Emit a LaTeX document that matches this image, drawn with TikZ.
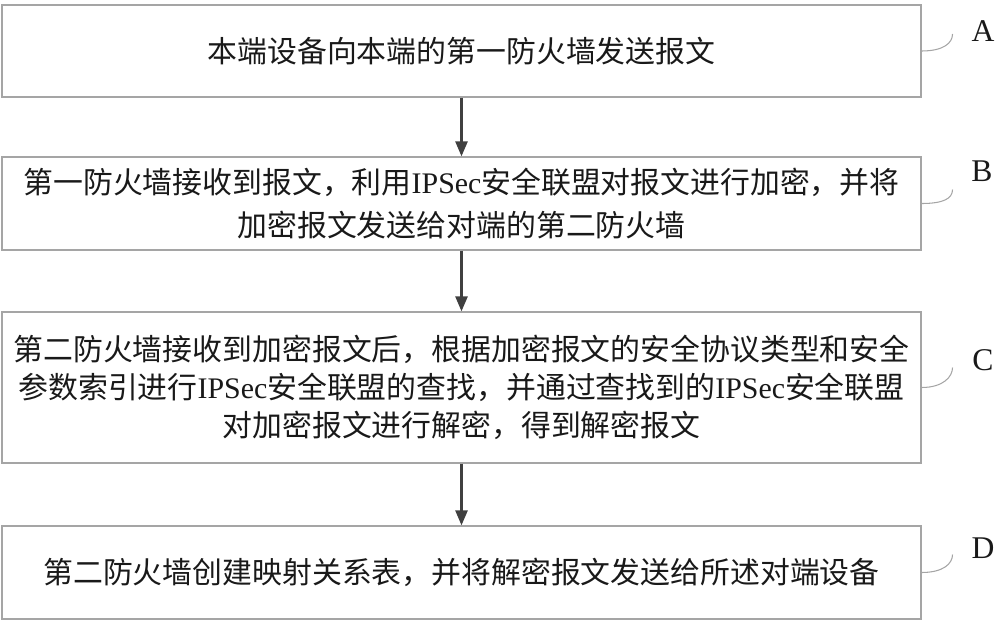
\documentclass[tikz,border=0pt]{standalone}
\usepackage{fontspec}
\setmainfont{Liberation Serif}
\newfontfamily\cjk{Noto Sans CJK SC}
\usepackage{tikz}
\usetikzlibrary{arrows, arrows.meta, positioning}

\definecolor{boxgray}{RGB}{165,165,165}
\definecolor{arrowgray}{RGB}{64,64,64}
\newcommand{\ipsec}{{\rmfamily IPSec}}

\begin{document}
\begin{tikzpicture}[
    x=0.02cm, y=-0.02cm,
    step_box/.style={draw=boxgray, line width=0.7pt, rectangle, minimum width=18.38cm,
        align=center, inner sep=0pt, text=black!90,
        font=\cjk\fontsize{17}{21.5}\selectfont},
    flow/.style={-{Triangle[length=0.3cm, width=0.24cm]}, line width=1.4pt, color=arrowgray},
    leader/.style={draw=boxgray, line width=0.6pt},
    tag/.style={font=\fontsize{18}{20}\selectfont, text=black!90}
]
\useasboundingbox (0,0) rectangle (1000,626);

% STEP BOXES
\node[step_box, minimum height=1.84cm] (boxA) at (461.5,51)
    {本端设备向本端的第一防火墙发送报文};
\node[step_box, minimum height=1.86cm] (boxB) at (461.5,203.5)
    {第一防火墙接收到报文，利用\ipsec 安全联盟对报文进行加密，并将\\[3.5pt]
     加密报文发送给对端的第二防火墙};
\node[step_box, minimum height=3.02cm] (boxC) at (461.5,387.5)
    {第二防火墙接收到加密报文后，根据加密报文的安全协议类型和安全\\
     参数索引进行\ipsec 安全联盟的查找，并通过查找到的\ipsec 安全联盟\\
     对加密报文进行解密，得到解密报文};
\node[step_box, minimum height=1.86cm] (boxD) at (461.5,572.5)
    {第二防火墙创建映射关系表，并将解密报文发送给所述对端设备};

% FLOW ARROWS
\draw[flow] (boxA) -- (boxB);
\draw[flow] (boxB) -- (boxC);
\draw[flow] (boxC) -- (boxD);

% STEP TAGS
\node[tag] (labA) at (983,31) {A};
\node[tag] (labB) at (982,171) {B};
\node[tag] (labC) at (983,360) {C};
\node[tag] (labD) at (983,548) {D};

\foreach \s/\r in {A/17, B/14, C/20, D/18} {
    \coordinate (tip\s) at ([shift={(31,-\r)}]box\s.east);
    \draw[leader] (box\s.east) .. controls +(22,0) and +(0,9) .. (tip\s);
}

\end{tikzpicture}
\end{document}
